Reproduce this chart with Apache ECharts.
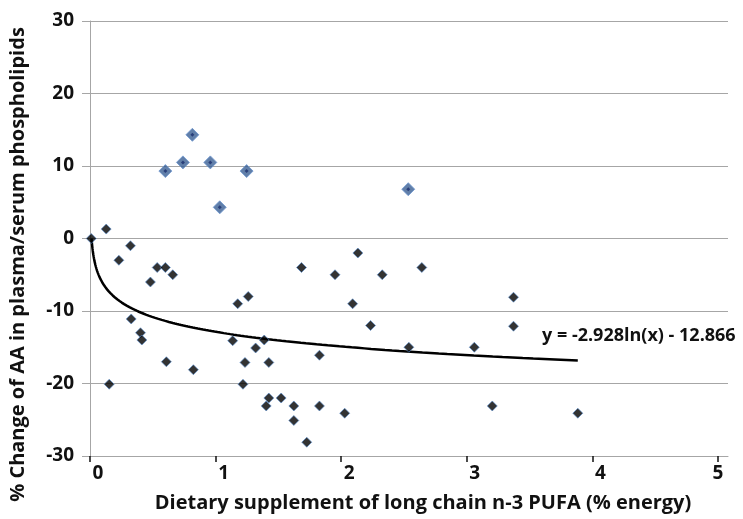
<!DOCTYPE html>
<html>
<head>
<meta charset="utf-8">
<script src="https://cdn.jsdelivr.net/npm/echarts@6/dist/echarts.min.js"></script>
<style>
  html, body { margin: 0; padding: 0; background: #fff; }
  #chart { width: 743px; height: 519px; }
</style>
</head>
<body>
<div id="chart"></div>
<script>
// Studies showing the largest rise in AA (drawn as larger blue diamonds)
const riseX = [0.60, 0.74, 0.815, 0.958, 1.247, 1.033, 2.534];
const riseY = [9.3, 10.5, 14.3, 10.5, 9.3, 4.3, 6.8];

// All other studies (small dark diamonds)
const otherX = [0.01, 0.129, 0.322, 0.230, 0.535, 0.600, 0.659, 0.481, 1.684, 1.176,
                1.260, 0.328, 0.402, 0.413, 0.608, 0.823, 0.153, 1.136, 1.387, 1.319,
                1.234, 1.424, 1.218, 1.424, 1.403, 1.522, 1.623, 1.623, 1.726, 1.827,
                2.028, 1.827, 1.951, 2.133, 2.327, 2.091, 2.234, 2.539, 2.642, 3.372,
                3.372, 3.060, 3.203, 3.884];
const otherY = [0.0, 1.3, -1.0, -3.0, -4.0, -4.0, -5.0, -6.0, -4.0, -9.0,
                -8.0, -11.1, -13.0, -14.0, -17.0, -18.1, -20.1, -14.1, -14.0, -15.1,
                -17.1, -17.1, -20.1, -22.0, -23.1, -22.0, -23.1, -25.1, -28.1, -23.1,
                -24.1, -16.1, -5.0, -2.0, -5.0, -9.0, -12.0, -15.0, -4.0, -8.1,
                -12.1, -15.0, -23.1, -24.1];

// Logarithmic trend line y = a*ln(x) + b
const trendA = -2.928;
const trendB = -12.866;
const trendLabel = 'y = -2.928ln(x) - 12.866';

const xTicks = [0, 1, 2, 3, 4, 5];
const yTicks = [-30, -20, -10, 0, 10, 20, 30];

const xTitle = 'Dietary supplement of long chain n-3 PUFA (% energy)';
const yTitle = '% Change of AA in plasma/serum phospholipids';

const FONT = '"Open Sans"';

function pairs(xs, ys) {
  return xs.map((x, i) => [x, ys[i]]);
}

// Sample the fitted curve from where it crosses zero out to the largest dose
function trendPoints() {
  const xStart = Math.exp(-trendB / trendA);
  const xEnd = Math.max(...otherX, ...riseX);
  const n = 240;
  const pts = [];
  for (let i = 0; i <= n; i++) {
    const x = xStart * Math.pow(xEnd / xStart, i / n);
    pts.push([x, trendA * Math.log(x) + trendB]);
  }
  return pts;
}

const chart = echarts.init(document.getElementById('chart'), null, { renderer: 'canvas' });

const labelFont = { fontFamily: FONT, fontWeight: 'bold', fontSize: 19, color: '#111' };

chart.setOption({
  animation: false,
  backgroundColor: '#fff',
  grid: { left: 89, right: 15, top: 21, bottom: 63 },
  xAxis: {
    type: 'value',
    min: 0,
    max: 5.08,
    name: xTitle,
    nameLocation: 'middle',
    nameGap: 37,
    nameTextStyle: { fontFamily: FONT, fontWeight: 'bold', fontSize: 20, color: '#111', padding: [0, 0, 0, 28] },
    axisLine: { onZero: false, lineStyle: { color: '#a6a6a6', width: 1 } },
    axisTick: { show: true, customValues: xTicks, length: 6, lineStyle: { color: '#111', width: 1.5 } },
    axisLabel: {
      customValues: xTicks,
      margin: 8,
      formatter: v => (v === 5 ? '{e|' + v + '}' : '{s|' + v + '}'),
      rich: {
        s: Object.assign({ padding: [0, 0, 0, 16] }, labelFont),
        e: Object.assign({}, labelFont)
      }
    },
    splitLine: { show: false }
  },
  yAxis: {
    type: 'value',
    min: yTicks[0],
    max: yTicks[yTicks.length - 1],
    interval: 10,
    name: yTitle,
    nameLocation: 'middle',
    nameGap: 62,
    nameTextStyle: { fontFamily: FONT, fontWeight: 'bold', fontSize: 20, color: '#111', padding: [0, 52, 0, 0] },
    axisLine: { show: true, onZero: false, lineStyle: { color: '#a6a6a6', width: 1 } },
    axisTick: { show: true, length: 8, lineStyle: { color: '#a6a6a6', width: 1 } },
    axisLabel: Object.assign({ margin: 16 }, labelFont),
    splitLine: { show: true, lineStyle: { color: '#a6a6a6', width: 1 } }
  },
  series: [
    {
      name: 'trend',
      type: 'line',
      data: trendPoints(),
      showSymbol: false,
      symbol: 'none',
      lineStyle: { color: '#000', width: 2.5 },
      z: 3
    },
    {
      name: 'other',
      type: 'scatter',
      data: pairs(otherX, otherY),
      symbol: 'diamond',
      symbolSize: 10,
      itemStyle: { color: '#000', borderColor: '#5b8fd0', borderWidth: 0.8 },
      z: 4
    },
    {
      name: 'rise',
      type: 'scatter',
      data: pairs(riseX, riseY),
      symbol: 'diamond',
      symbolSize: 13,
      itemStyle: { color: '#3a5f94', borderColor: '#6d96cf', borderWidth: 1 },
      z: 4
    },
    {
      name: 'rise-core',
      type: 'scatter',
      data: pairs(riseX, riseY),
      symbol: 'diamond',
      symbolSize: 4,
      itemStyle: { color: '#1c2f6e' },
      silent: true,
      z: 5
    }
  ],
  graphic: [
    {
      type: 'text',
      left: 542,
      top: 327,
      style: {
        text: trendLabel,
        font: 'bold 18px ' + FONT,
        fill: '#111'
      }
    }
  ]
});
</script>
</body>
</html>
